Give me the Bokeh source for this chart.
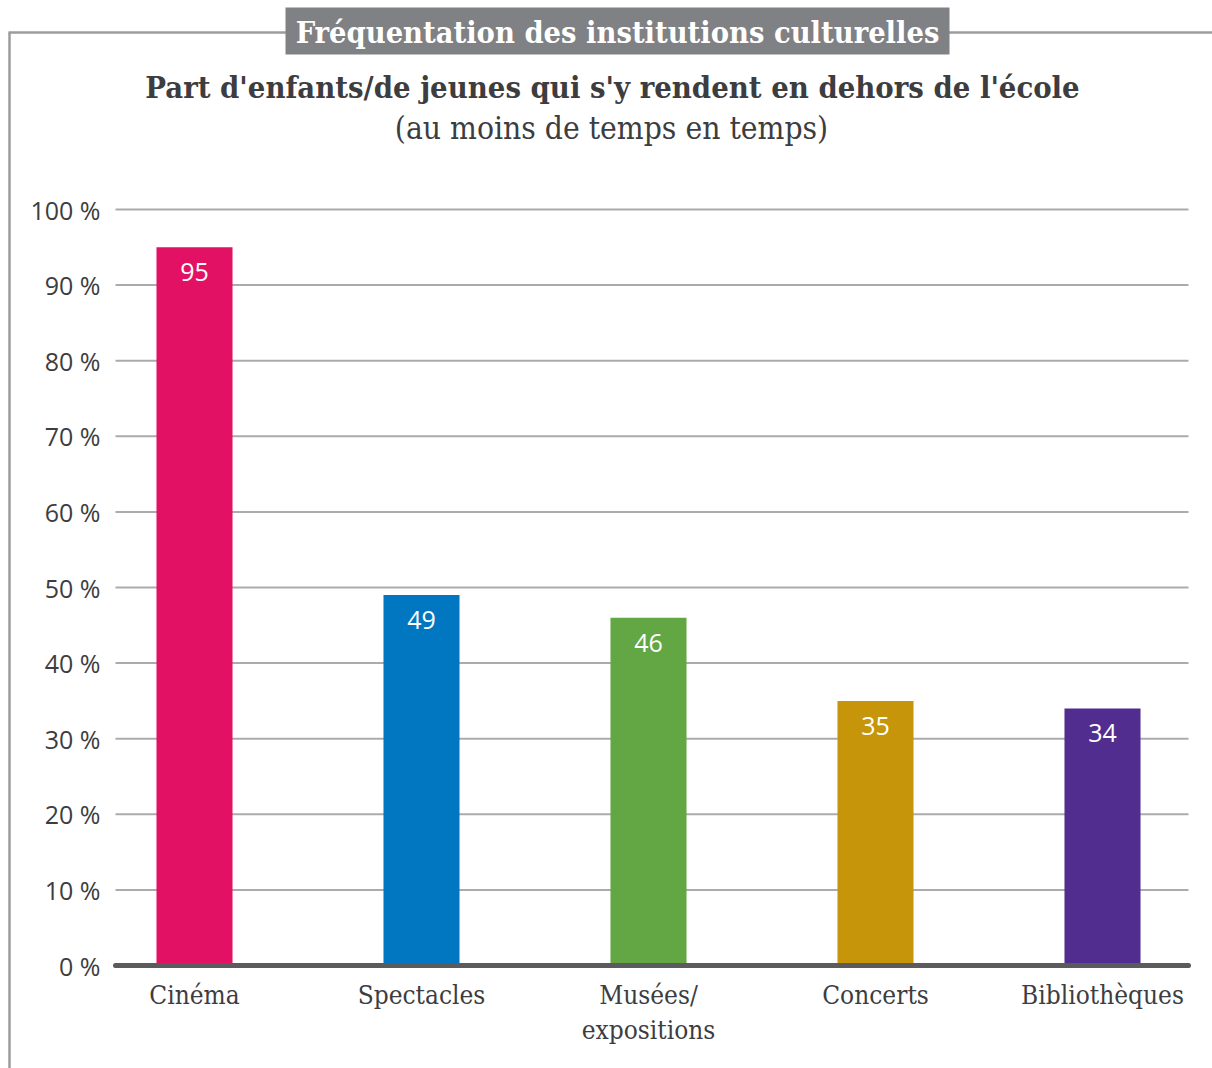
from bokeh.plotting import figure
from bokeh.models import Range1d, ColumnDataSource
from bokeh.core.properties import value
from bokeh.embed import file_html
from bokeh.resources import INLINE

# ---- data ----
categories = ["Cinéma", "Spectacles", "Musées/\nexpositions", "Concerts", "Bibliothèques"]
values = [95, 49, 46, 35, 34]
colors = ["#E31163", "#0077C0", "#62A744", "#C7950A", "#522D90"]
y_ticks = [0, 10, 20, 30, 40, 50, 60, 70, 80, 90, 100]
y_tick_labels = [f"{t} %" for t in y_ticks]

title_box = "Fréquentation des institutions culturelles"
subtitle = "Part d'enfants/de jeunes qui s'y rendent en dehors de l'école"
subtitle2 = "(au moins de temps en temps)"

# ---- style ----
SERIF = "DejaVu Serif Condensed"
SANS = "Open Sans"
TXT = "#3D3D3F"
FRAME = "#9C9C9E"

W, H = 1212, 1068
# layout in canvas pixels
PLOT_L, PLOT_R = 115, 1188
Y0_PX, Y100_PX = 965, 209
X0_PX, STEP_PX = 194, 227

p = figure(width=W, height=H, output_backend="svg", toolbar_location=None, title=None,
           x_range=Range1d(0, W), y_range=Range1d(H, 0),
           x_axis_type=None, y_axis_type=None,
           min_border=0, min_border_left=0, min_border_right=0, min_border_top=0, min_border_bottom=0)
p.outline_line_color = None
p.grid.visible = False
p.background_fill_color = "white"
p.border_fill_color = "white"

# scales for categories (index) and percentages
px_per_pct = (Y0_PX - Y100_PX) / 100.0
p.extra_y_ranges = {"pct": Range1d(-(H - Y0_PX) / px_per_pct, 100 + Y100_PX / px_per_pct)}
p.extra_x_ranges = {"cat": Range1d(-X0_PX / STEP_PX, (W - X0_PX) / STEP_PX)}

# header frame
p.segment(x0=[8], x1=[W], y0=[32], y1=[32], line_color=FRAME, line_width=2.5)
p.segment(x0=[9], x1=[9], y0=[32], y1=[H], line_color=FRAME, line_width=2.5)
p.quad(left=[285], right=[949], top=[7], bottom=[54], fill_color="#808184", line_color=None)
p.text(x=[617], y=[31], text=[title_box], text_align="center", text_baseline="middle",
       text_font=value(SERIF), text_font_style="bold", text_font_size="30.5px", text_color="white")
p.text(x=[612], y=[86], text=[subtitle], text_align="center", text_baseline="middle",
       text_font=value(SERIF), text_font_style="bold", text_font_size="30.7px", text_color=TXT)
p.text(x=[611], y=[127], text=[subtitle2], text_align="center", text_baseline="middle",
       text_font=value(SERIF), text_font_size="31.5px", text_color=TXT)

# grid lines and y tick labels
n = len(y_ticks)
p.segment(x0=[PLOT_L] * n, x1=[PLOT_R] * n, y0=y_ticks, y1=y_ticks, y_range_name="pct",
          line_color="#ABABAD", line_width=2)
p.text(x=[PLOT_L - 15] * n, y=y_ticks, text=y_tick_labels, y_range_name="pct",
       text_align="right", text_baseline="middle", text_font=value(SANS),
       text_font_size="25px", text_color=TXT)

# bars
xs = list(range(len(categories)))
src = ColumnDataSource(dict(x=xs, top=values, color=colors, label=[str(v) for v in values],
                            cat=categories, base=[0] * len(xs)))
p.vbar(x="x", top="top", bottom=0, width=0.335, fill_color="color", line_color=None,
       source=src, x_range_name="cat", y_range_name="pct")
p.text(x="x", y="top", text="label", source=src, x_range_name="cat", y_range_name="pct",
       text_color="white", text_align="center", text_baseline="middle", y_offset=25,
       text_font=value(SANS), text_font_size="25px")

# baseline
p.segment(x0=[PLOT_L], x1=[PLOT_R], y0=[0], y1=[0], y_range_name="pct",
          line_color="#5B5B5D", line_width=5, line_cap="round")

# category labels
p.text(x="x", y="base", text="cat", source=src, x_range_name="cat", y_range_name="pct",
       text_align="center", text_baseline="top", y_offset=14, text_line_height=1.18,
       text_font=value(SERIF), text_font_size="26px", text_color=TXT)

open("out.html", "w").write(file_html(p, INLINE))
